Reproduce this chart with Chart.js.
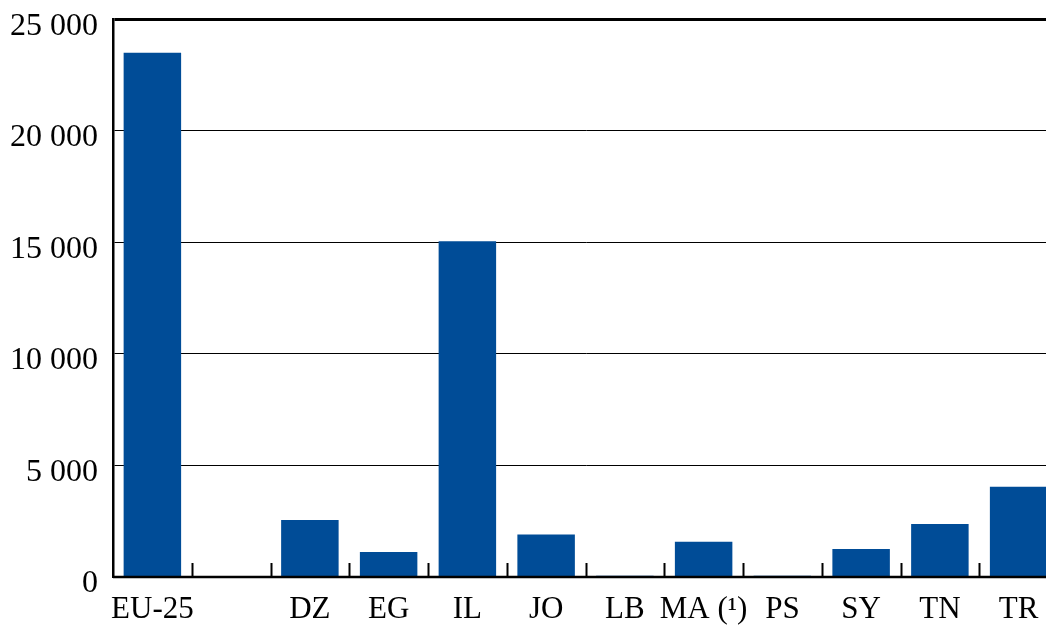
<!DOCTYPE html>
<html>
<head>
<meta charset="utf-8">
<script src="https://cdn.jsdelivr.net/npm/chart.js@4/dist/chart.umd.min.js"></script>
<style>
  html, body { margin: 0; padding: 0; background: #fff; overflow: hidden; }
  #wrap { width: 1058px; height: 641px; position: relative; margin-top: -15px; }
</style>
</head>
<body>
<div id="wrap"><canvas id="c" width="1058" height="641"></canvas></div>
<script>
const categories = ["EU-25", "", "DZ", "EG", "IL", "JO", "LB", "MA (\u00B9)", "PS", "SY", "TN", "TR"];
const values = [23500, null, 2550, 1120, 15050, 1900, 60, 1580, 60, 1250, 2380, 4050];
const yTicks = [0, 5000, 10000, 15000, 20000, 25000];

const fmt = v => String(v).replace(/\B(?=(\d{3})+(?!\d))/g, " ");

const innerTicks = {
  id: "innerTicks",
  afterDatasetsDraw(chart) {
    const x = chart.scales.x, y = chart.scales.y;
    const ctx = chart.ctx;
    const n = categories.length;
    const step = (x.right - x.left) / n;
    ctx.save();
    ctx.strokeStyle = "#000";
    ctx.lineWidth = 2;
    ctx.beginPath();
    for (let i = 1; i < n; i++) {
      const px = Math.round(x.left + i * step) + 0.5;
      ctx.moveTo(px, y.bottom);
      ctx.lineTo(px, y.bottom - 14);
    }
    ctx.stroke();
    ctx.lineWidth = 2.5;
    ctx.beginPath();
    ctx.moveTo(x.left, y.bottom);
    ctx.lineTo(x.right, y.bottom);
    ctx.stroke();
    ctx.restore();
  }
};

new Chart(document.getElementById("c"), {
  type: "bar",
  data: {
    labels: categories,
    datasets: [{
      data: values,
      backgroundColor: "#004C97",
      borderWidth: 0,
      barPercentage: 0.73,
      categoryPercentage: 1.0
    }]
  },
  options: {
    responsive: false,
    animation: false,
    layout: { padding: { top: 4, right: 0, left: 0, bottom: 0 } },
    plugins: { legend: { display: false }, tooltip: { enabled: false } },
    scales: {
      x: {
        grid: { display: false, drawTicks: false },
        border: { display: false },
        ticks: {
          color: "#000",
          font: { family: "Liberation Serif", size: 31 },
          padding: 14,
          maxRotation: 0,
          autoSkip: false
        },
        afterFit(scale) { scale.height = 49; }
      },
      y: {
        min: 0,
        max: 25000,
        afterBuildTicks(scale) { scale.ticks = yTicks.map(v => ({ value: v })); },
        grid: {
          color: "#000",
          lineWidth: ctx => (ctx.tick && ctx.tick.value === 25000 ? 3 : 1),
          drawTicks: false
        },
        border: { display: true, color: "#000", width: 2.5 },
        ticks: {
          color: "#000",
          font: { family: "Liberation Serif", size: 32 },
          padding: 15,
          labelOffset: 7,
          callback: v => fmt(v)
        },
        afterFit(scale) { scale.width = 113; }
      }
    }
  },
  plugins: [innerTicks]
});
</script>
</body>
</html>
